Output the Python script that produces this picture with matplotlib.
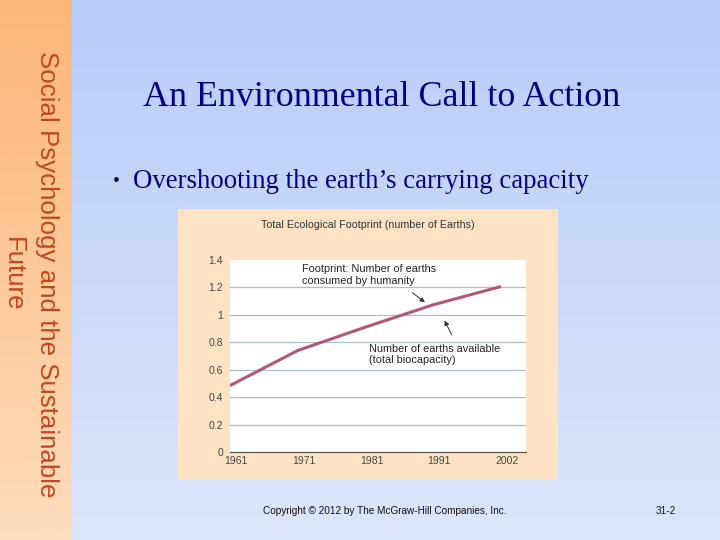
import numpy as np
import matplotlib
matplotlib.use("Agg")
import matplotlib.pyplot as plt
from matplotlib.patches import Rectangle
from matplotlib.colors import LinearSegmentedColormap
import matplotlib.transforms as mtransforms

# ---- data ----
years = ["1961", "1971", "1981", "1991", "2002"]
footprint = [0.485, 0.74, 0.91, 1.072, 1.205]
y_ticks = [0, 0.2, 0.4, 0.6, 0.8, 1.0, 1.2, 1.4]
y_tick_labels = ["0", "0.2", "0.4", "0.6", "0.8", "1", "1.2", "1.4"]
chart_title = "Total Ecological Footprint (number of Earths)"
label_footprint = "Footprint: Number of earths\nconsumed by humanity"
label_biocap = "Number of earths available\n(total biocapacity)"

W, H = 720, 540
fig = plt.figure(figsize=(7.2, 5.4), dpi=100)

# ---- background ----
bg = fig.add_axes([0, 0, 1, 1], zorder=-10)
bg.set_xlim(0, W); bg.set_ylim(H, 0); bg.axis("off")
blue = LinearSegmentedColormap.from_list("b", ["#b8cdfa", "#dce5fb"])
grad = np.linspace(0, 1, 256).reshape(-1, 1)
bg.imshow(grad, cmap=blue, extent=[0, W, H, 0], aspect="auto")
orange = LinearSegmentedColormap.from_list("o", ["#fdb677", "#fddcbc"])
bg.imshow(grad, cmap=orange, extent=[0, 72, H, 0], aspect="auto")
bg.set_xlim(0, W); bg.set_ylim(H, 0)

# sidebar text
bg.text(30, 274, "Social Psychology and the Sustainable\nFuture", rotation=270,
        ha="center", va="center", multialignment="center",
        fontsize=18.6, family="Liberation Sans", color="#c04820", linespacing=1.5)

# title and bullet
bg.text(382, 97, "An Environmental Call to Action", ha="center", va="center",
        fontsize=25.9, family="Liberation Serif", color="#000080")
bg.text(113, 181, "\u2022", ha="left", va="center",
        fontsize=14, family="Liberation Serif", color="#000080")
bg.text(133, 181, "Overshooting the earth\u2019s carrying capacity", ha="left", va="center",
        fontsize=19.3, family="Liberation Serif", color="#000080")

# chart panel
bg.add_patch(Rectangle((178, 209), 380, 270, facecolor="#fde2c4", edgecolor="none"))
bg.text(368, 224.5, chart_title, ha="center", va="center",
        fontsize=7.7, family="Liberation Sans", color="#333333")

# footer
bg.text(263, 511, "Copyright \u00a9 2012 by The McGraw-Hill Companies, Inc.", ha="left", va="center",
        fontsize=7.2, family="Liberation Sans", color="#111111")
bg.text(656, 511, "31-2", ha="left", va="center",
        fontsize=7.2, family="Liberation Sans", color="#111111")

# ---- chart axes ----
left, right, top, bottom = 230, 526, 259.7, 452.3
ax = fig.add_axes([left / W, 1 - bottom / H, (right - left) / W, (bottom - top) / H])
ax.set_facecolor("white")
x = np.arange(len(years))
ax.set_xlim(0, 4.37)
ax.set_ylim(0, 1.4)
for s in ["top", "right", "left"]:
    ax.spines[s].set_visible(False)
ax.spines["bottom"].set_color("#555555")
ax.spines["bottom"].set_linewidth(0.9)
ax.set_yticks(y_ticks)
ax.set_yticklabels(y_tick_labels)
ax.set_xticks(x)
ax.set_xticklabels(years)
ax.tick_params(axis="both", length=0, labelsize=7.5, labelcolor="#444444")
ax.tick_params(axis="y", pad=5)
ax.tick_params(axis="x", pad=3)
for lab in ax.get_xticklabels():
    lab.set_fontfamily("Liberation Sans")
    lab.set_transform(lab.get_transform() + mtransforms.ScaledTranslation(6 / 100, 0, fig.dpi_scale_trans))
for lab in ax.get_yticklabels():
    lab.set_fontfamily("Liberation Sans")
for yv in y_ticks[1:-1]:
    ax.axhline(yv, color="#a9bfcf", linewidth=0.9, zorder=1)

ax.plot(x, footprint, color="#b0587a", linewidth=2.2, zorder=3, solid_capstyle="butt")

ax.text(1.06, 1.29, label_footprint, ha="left", va="center", fontsize=7.8,
        family="Liberation Sans", color="#222222", linespacing=1.2)
ax.text(2.05, 0.712, label_biocap, ha="left", va="center", fontsize=7.8,
        family="Liberation Sans", color="#222222", linespacing=1.2)
ax.annotate("", xy=(2.91, 1.078), xytext=(2.66, 1.173),
            arrowprops=dict(arrowstyle="-|>", color="#333333", lw=0.7, mutation_scale=7))
ax.annotate("", xy=(3.15, 0.976), xytext=(3.29, 0.836),
            arrowprops=dict(arrowstyle="-|>", color="#333333", lw=0.7, mutation_scale=7))

fig.savefig("out.png", dpi=100)
